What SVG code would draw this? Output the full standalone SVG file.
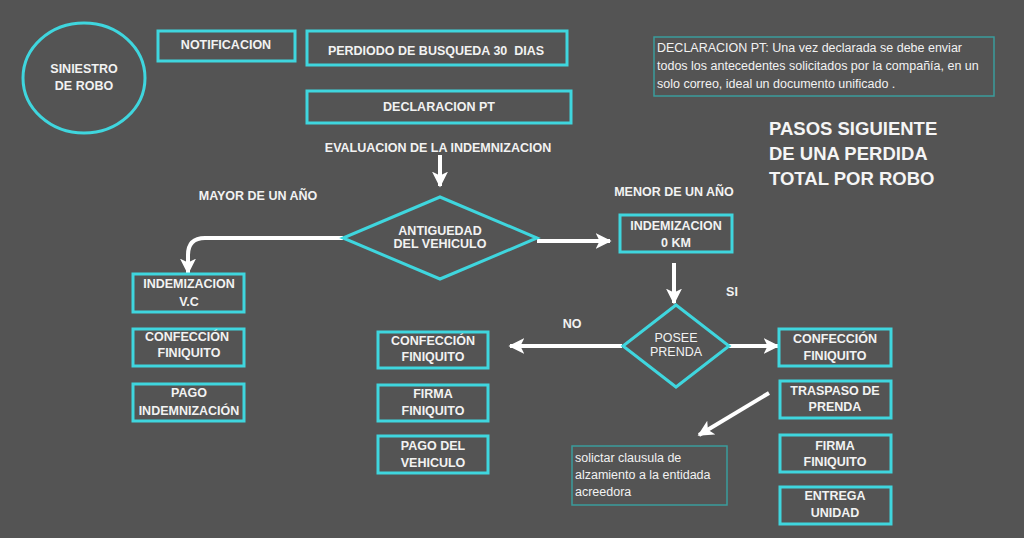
<svg xmlns="http://www.w3.org/2000/svg" width="1024" height="538" viewBox="0 0 1024 538">
<style>
.box{fill:none;stroke:#3fd6de;stroke-width:3}
.note{fill:none;stroke:#3a9c9c;stroke-width:1.5}
.t{font-family:"Liberation Sans",Arial,sans-serif;font-weight:bold;font-size:12.5px;fill:#f2f2f2;text-anchor:middle}
.n{font-family:"Liberation Sans",Arial,sans-serif;font-size:12.5px;fill:#f2f2f2}
.title{font-family:"Liberation Sans",Arial,sans-serif;font-weight:bold;font-size:18.5px;fill:#f5f5f5}
.c{fill:none;stroke:#ffffff;stroke-width:4}
</style>
<defs>
<marker id="ah" viewBox="0 0 10 10" refX="9" refY="5" markerWidth="4" markerHeight="4" orient="auto" markerUnits="strokeWidth">
<path d="M0,0 L10,5 L0,10 L2.5,5 Z" fill="#ffffff"/>
</marker>
</defs>
<rect width="1024" height="538" fill="#545454"/>

<g id="connectors">
<path class="c" d="M440,155 V186" marker-end="url(#ah)"/>
<path class="c" d="M343,238 H205 Q188,238 188,255 V273" marker-end="url(#ah)"/>
<path class="c" d="M537,241 H610" marker-end="url(#ah)"/>
<path class="c" d="M674,263 V303" marker-end="url(#ah)"/>
<path class="c" d="M622,346 H510" marker-end="url(#ah)"/>
<path class="c" d="M729,346 H778" marker-end="url(#ah)"/>
<path class="c" d="M769,393 L699,435" marker-end="url(#ah)"/>
</g>

<g id="siniestro">
<ellipse class="box" cx="84" cy="78" rx="61" ry="55"/>
<text class="t" x="84" y="73">SINIESTRO</text>
<text class="t" x="84" y="90">DE ROBO</text>
</g>
<g id="notificacion">
<rect class="box" x="158" y="31" width="137" height="30"/>
<text class="t" x="226" y="49">NOTIFICACION</text>
</g>
<g id="perdido">
<rect class="box" x="307" y="31" width="260" height="34"/>
<text class="t" x="436" y="55" xml:space="preserve">PERDIODO DE BUSQUEDA 30  DIAS</text>
</g>
<g id="declaracion">
<rect class="box" x="307" y="91" width="264" height="32"/>
<text class="t" x="439" y="111">DECLARACION PT</text>
</g>
<g id="evaluacion">
<text class="t" x="438" y="152">EVALUACION DE LA INDEMNIZACION</text>
</g>
<g id="nota">
<rect class="note" x="654" y="37" width="340" height="59"/>
<text class="n" x="657" y="52">DECLARACION PT: Una vez declarada se debe enviar</text>
<text class="n" x="657" y="70">todos los antecedentes solicitados por la compañía, en un</text>
<text class="n" x="657" y="88">solo correo, ideal un documento unificado .</text>
</g>
<g id="titulo">
<text class="title" x="769" y="135">PASOS SIGUIENTE</text>
<text class="title" x="769" y="160">DE UNA PERDIDA</text>
<text class="title" x="769" y="185">TOTAL POR ROBO</text>
</g>
<g id="mayor">
<text class="t" x="258" y="200">MAYOR DE UN AÑO</text>
</g>
<g id="menor">
<text class="t" x="674" y="196">MENOR DE UN AÑO</text>
</g>
<g id="antiguedad">
<polygon class="box" points="440,197 537,238 440,279 343,238"/>
<text class="t" x="440" y="235">ANTIGUEDAD</text>
<text class="t" x="440" y="248">DEL VEHICULO</text>
</g>
<g id="indem-vc">
<rect class="box" x="133" y="274" width="111" height="38"/>
<text class="t" x="189" y="288">INDEMIZACION</text>
<text class="t" x="189" y="306">V.C</text>
</g>
<g id="confeccion-l">
<rect class="box" x="133" y="329" width="111" height="37"/>
<text class="t" x="187" y="341">CONFECCIÓN</text>
<text class="t" x="189" y="357">FINIQUITO</text>
</g>
<g id="pago-indem">
<rect class="box" x="133" y="384" width="111" height="37"/>
<text class="t" x="189" y="397">PAGO</text>
<text class="t" x="189" y="415">INDEMNIZACIÓN</text>
</g>
<g id="indem-0km">
<rect class="box" x="620" y="215" width="112" height="37"/>
<text class="t" x="676" y="230">INDEMIZACION</text>
<text class="t" x="676" y="247">0 KM</text>
</g>
<g id="si"><text class="t" x="732" y="296">SI</text></g>
<g id="no"><text class="t" x="572" y="328">NO</text></g>
<g id="posee">
<polygon class="box" points="676,305 729,346 676,387 623,346"/>
<text class="t" x="676" y="342" style="font-weight:normal">POSEE</text>
<text class="t" x="676" y="356" style="font-weight:normal">PRENDA</text>
</g>
<g id="confeccion-m">
<rect class="box" x="378" y="332" width="110" height="36"/>
<text class="t" x="433" y="345">CONFECCIÓN</text>
<text class="t" x="433" y="361">FINIQUITO</text>
</g>
<g id="firma-m">
<rect class="box" x="378" y="385" width="110" height="36"/>
<text class="t" x="433" y="398">FIRMA</text>
<text class="t" x="433" y="415">FINIQUITO</text>
</g>
<g id="pago-vehiculo">
<rect class="box" x="378" y="436" width="110" height="37"/>
<text class="t" x="433" y="450">PAGO DEL</text>
<text class="t" x="433" y="467">VEHICULO</text>
</g>
<g id="confeccion-r">
<rect class="box" x="779" y="329" width="112" height="37"/>
<text class="t" x="835" y="343">CONFECCIÓN</text>
<text class="t" x="835" y="360">FINIQUITO</text>
</g>
<g id="traspaso">
<rect class="box" x="780" y="381" width="111" height="37"/>
<text class="t" x="835" y="395">TRASPASO DE</text>
<text class="t" x="835" y="411">PRENDA</text>
</g>
<g id="firma-r">
<rect class="box" x="780" y="435" width="111" height="37"/>
<text class="t" x="835" y="450">FIRMA</text>
<text class="t" x="835" y="466">FINIQUITO</text>
</g>
<g id="entrega">
<rect class="box" x="780" y="487" width="111" height="37"/>
<text class="t" x="835" y="500">ENTREGA</text>
<text class="t" x="835" y="517">UNIDAD</text>
</g>
<g id="solicitar">
<rect class="note" x="572" y="446" width="155" height="59"/>
<text class="n" x="575" y="462">solictar clausula de</text>
<text class="n" x="575" y="479">alzamiento a la entidada</text>
<text class="n" x="575" y="496">acreedora</text>
</g>
</svg>
